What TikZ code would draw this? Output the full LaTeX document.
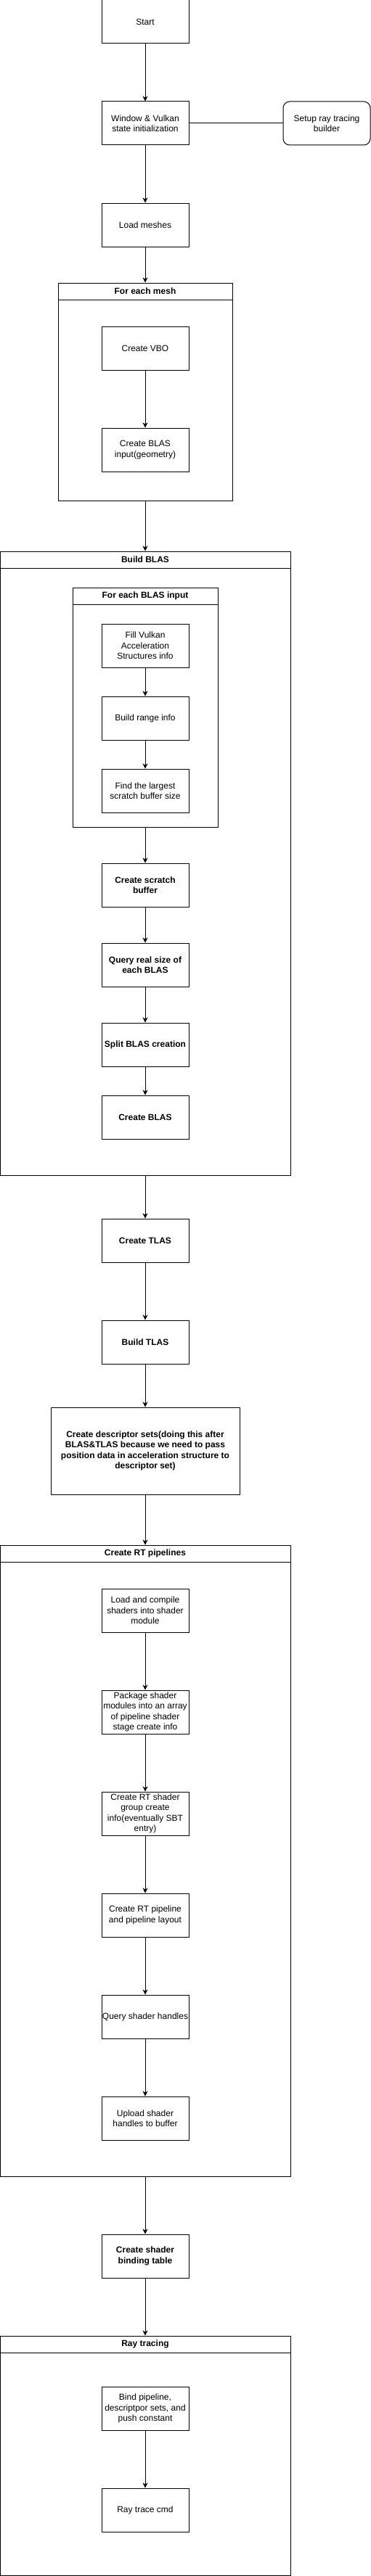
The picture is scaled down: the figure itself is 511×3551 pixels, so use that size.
\documentclass[tikz,border=0pt]{standalone}
\usepackage{fontspec}
\setmainfont{Liberation Sans}
\usetikzlibrary{arrows.meta}
\begin{document}
\begin{tikzpicture}[x=1pt,y=-1pt,
  box/.style={draw, line width=1pt, minimum width=120pt, minimum height=60pt, inner sep=0pt, align=center, font=\fontsize{12}{14.4}\selectfont},
  bbox/.style={box, font=\fontsize{12}{14.4}\selectfont\bfseries},
  frame/.style={draw, line width=1pt, inner sep=0pt},
  head/.style={draw, line width=1pt, inner sep=0pt, minimum height=23pt, font=\fontsize{12}{14.4}\selectfont\bfseries},
  arr/.style={line width=1pt, -{Stealth[length=7pt,width=7pt,inset=2pt]}},
  ]
\useasboundingbox (0,0) rectangle (511,3551);

\node[box] (start) at (200,30) {Start};
\node[box] (win) at (200,170) {Window \& Vulkan\\state initialization};
\node[box, rounded corners=9pt] (setup) at (450,170) {Setup ray tracing\\builder};
\node[box] (load) at (200,310) {Load meshes};

% For each mesh
\node[frame, minimum width=240pt, minimum height=300pt] (mesh) at (200,540) {};
\node[head, minimum width=240pt, anchor=north] (meshh) at (mesh.north) {For each mesh};
\node[box] (vbo) at (200,480) {Create VBO};
\node[box] (blasin) at (200,620) {Create BLAS\\input(geometry)};

% Build BLAS
\node[frame, minimum width=400pt, minimum height=860pt] (bblas) at (200,1190) {};
\node[head, minimum width=400pt, anchor=north] (bblash) at (bblas.north) {Build BLAS};
\node[frame, minimum width=200pt, minimum height=330pt] (binput) at (200,975) {};
\node[head, minimum width=200pt, anchor=north] (binputh) at (binput.north) {For each BLAS input};
\node[box] (fill) at (200,890) {Fill Vulkan\\Acceleration\\Structures info};
\node[box] (range) at (200,990) {Build range info};
\node[box] (find) at (200,1090) {Find the largest\\scratch buffer size};
\node[bbox] (scratch) at (200,1220) {Create scratch\\buffer};
\node[bbox] (query) at (200,1330) {Query real size of\\each BLAS};
\node[bbox] (split) at (200,1440) {Split BLAS creation};
\node[bbox] (cblas) at (200,1540) {Create BLAS};

\node[bbox] (ctlas) at (200,1710) {Create TLAS};
\node[bbox] (btlas) at (200,1850) {Build TLAS};
\node[bbox, minimum width=260pt, minimum height=120pt] (desc) at (200,2000) {Create descriptor sets(doing this after\\BLAS\&TLAS because we need to pass\\position data in acceleration structure to\\descriptor set)};

% Create RT pipelines
\node[frame, minimum width=400pt, minimum height=870pt] (rtp) at (200,2565) {};
\node[head, minimum width=400pt, anchor=north] (rtph) at (rtp.north) {Create RT pipelines};
\node[box] (loadc) at (200,2220) {Load and compile\\shaders into shader\\module};
\node[box] (pack) at (200,2360) {Package shader\\modules into an array\\of pipeline shader\\stage create info};
\node[box] (group) at (200,2500) {Create RT shader\\group create\\info(eventually SBT\\entry)};
\node[box] (pipe) at (200,2640) {Create RT pipeline\\and pipeline layout};
\node[box] (qh) at (200,2780) {Query shader handles};
\node[box] (upload) at (200,2920) {Upload shader\\handles to buffer};

\node[bbox] (sbt) at (200,3110) {Create shader\\binding table};

% Ray tracing
\node[frame, minimum width=400pt, minimum height=330pt] (rt) at (200,3385) {};
\node[head, minimum width=400pt, anchor=north] (rth) at (rt.north) {Ray tracing};
\node[box] (bind) at (200,3320) {Bind pipeline,\\descriptpor sets, and\\push constant};
\node[box] (cmd) at (200,3460) {Ray trace cmd};

% connectors
\draw[arr] (start) -- (win);
\draw[line width=1pt] (win) -- (setup);
\draw[arr] (win) -- (load);
\draw[arr] (load) -- (mesh.north);
\draw[arr] (vbo) -- (blasin);
\draw[arr] (mesh.south) -- (bblas.north);
\draw[arr] (fill) -- (range);
\draw[arr] (range) -- (find);
\draw[arr] (binput.south) -- (scratch);
\draw[arr] (scratch) -- (query);
\draw[arr] (query) -- (split);
\draw[arr] (split) -- (cblas);
\draw[arr] (bblas.south) -- (ctlas);
\draw[arr] (ctlas) -- (btlas);
\draw[arr] (btlas) -- (desc);
\draw[arr] (desc) -- (rtp.north);
\draw[arr] (loadc) -- (pack);
\draw[arr] (pack) -- (group);
\draw[arr] (group) -- (pipe);
\draw[arr] (pipe) -- (qh);
\draw[arr] (qh) -- (upload);
\draw[arr] (rtp.south) -- (sbt);
\draw[arr] (sbt) -- (rt.north);
\draw[arr] (bind) -- (cmd);
\end{tikzpicture}
\end{document}
